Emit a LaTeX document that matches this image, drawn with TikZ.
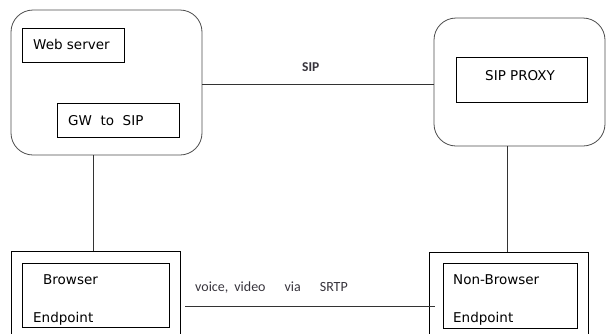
\documentclass[tikz,border=0pt]{standalone}
\usepackage{fontspec}
\setmainfont{DejaVu Sans}
\newfontfamily\lblfont{Carlito}
\definecolor{lblcol}{RGB}{55,52,60}
\begin{document}
\begin{tikzpicture}[x=1pt,y=-1pt,
  outerbox/.style={draw=black!70, line width=0.8pt, rounded corners=22pt},
  plainbox/.style={draw=black, line width=0.8pt},
  conn/.style={draw=black!80, line width=0.8pt},
  boxtext/.style={font=\fontsize{13.5}{15}\selectfont, anchor=base west, inner sep=0pt},
  lbl/.style={font=\lblfont\fontsize{14}{16}\selectfont, text=lblcol, anchor=base west, inner sep=0pt}]
\useasboundingbox (0,0) rectangle (606,333);
% left rounded group
\draw[outerbox] (11,10) rectangle (202,155);
\coordinate (lgR) at (202,84);
\coordinate (lgB) at (93,155);
\draw[plainbox] (22,28) rectangle (124,62);
\node[boxtext] (web) at (33,49) {Web server};
\draw[plainbox] (57,103) rectangle (179,137);
\node[boxtext] (gw) at (68,125) {GW\ \ to\ \ SIP};
% right rounded group
\draw[outerbox] (434,18) rectangle (605,146);
\coordinate (rgL) at (434,84);
\coordinate (rgB) at (507,146);
\draw[plainbox] (456,57) rectangle (587,102);
\node[boxtext] (proxy) at (485,80) {SIP PROXY};
% SIP link
\draw[conn] (lgR) -- (rgL);
\node[lbl, font=\lblfont\bfseries\fontsize{13.5}{15}\selectfont] (sip) at (302,71) {SIP};
% browser endpoint
\draw[plainbox] (11,340) -- (11,251) -- (180,251) -- (180,340);
\coordinate (beT) at (93,251);
\draw[plainbox] (22,263) rectangle (169,327);
\node[boxtext] (br1) at (43,284) {Browser};
\node[boxtext] (br2) at (33,322) {Endpoint};
\coordinate (beR) at (185,306);
% non-browser endpoint
\draw[plainbox] (429,340) -- (429,252) -- (588,252) -- (588,340);
\coordinate (nbT) at (507,252);
\coordinate (nbL) at (435,306);
\draw[plainbox] (443,263) rectangle (577,328);
\node[boxtext] (nb1) at (453,284) {Non-Browser};
\node[boxtext] (nb2) at (453,322) {Endpoint};
% connectors
\draw[conn] (lgB) -- (beT);
\draw[conn] (rgB) -- (nbT);
\draw[conn] (beR) -- (nbL);
\node[lbl] (media) at (195,291) {voice,\hspace{6pt}video\hspace{19pt}via\hspace{19pt}SRTP};
\end{tikzpicture}
\end{document}
